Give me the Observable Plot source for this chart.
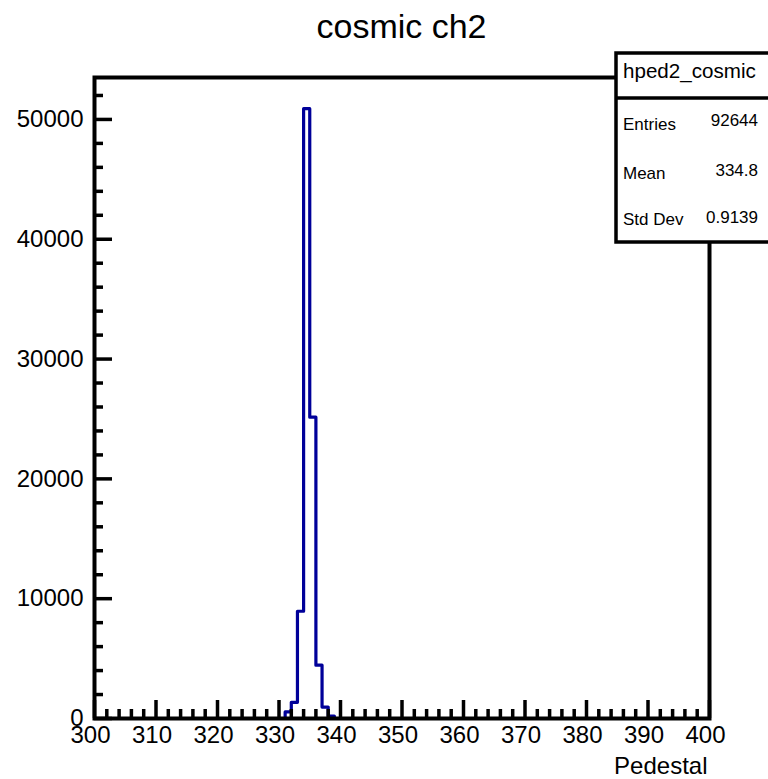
<!DOCTYPE html>
<html><head><meta charset="utf-8">
<script src="https://cdn.jsdelivr.net/npm/d3@7"></script>
<script src="https://cdn.jsdelivr.net/npm/@observablehq/plot@0.6"></script>
<style>
html,body{margin:0;padding:0;background:#fff;overflow:hidden;}
#wrap{position:relative;width:768px;height:779px;font-family:"Liberation Sans",Arial,Helvetica,sans-serif;}
#title{position:absolute;left:94px;width:615px;top:9px;height:34px;line-height:34px;font-size:34px;text-align:center;color:#000;}
#chart{position:absolute;left:0;top:50px;}
</style></head><body>
<div id="wrap"><div id="title">cosmic ch2</div><div id="chart"></div></div>
<script>
// ---- data ----
const titleText = "cosmic ch2";
const xLabel = "Pedestal";
const xMin = 300, xMax = 400, yMax = 53500;
const binLow = [331, 332, 333, 334, 335, 336, 337, 338];
const binCounts = [550, 1350, 8950, 50900, 25150, 4450, 950, 200];
const xMajor = [300, 310, 320, 330, 340, 350, 360, 370, 380, 390, 400];
const yMajor = [0, 10000, 20000, 30000, 40000, 50000];
const statsName = "hped2_cosmic";
const statsLabels = ["Entries", "Mean", "Std Dev"];
const statsValues = ["92644", "334.8", "0.9139"];

// minor ticks
const xMinor = d3.range(xMin + 2, xMax, 2).filter(v => v % 10 !== 0);
const yMinor = d3.range(2000, yMax, 2000).filter(v => v % 10000 !== 0);

// step outline of the histogram
const countMap = new Map(binLow.map((b, i) => [b, binCounts[i]]));
const steps = [];
for (let b = xMin; b < xMax; b++) steps.push({x: b, y: countMap.get(b) || 0});
steps.push({x: xMax, y: 0});

const W = 768, H = 729, mL = 94, mR = 59, mT = 27, mB = 61;
const frameW = W - mL - mR, frameH = H - mT - mB;
const font = '"Liberation Sans", Arial, Helvetica, sans-serif';

const svg = Plot.plot({
  width: W, height: H,
  marginLeft: mL, marginRight: mR, marginTop: mT, marginBottom: mB,
  x: {domain: [xMin, xMax]},
  y: {domain: [0, yMax]},
  style: {fontFamily: font, background: "white", color: "black", overflow: "visible"},
  marks: [
    Plot.line(steps, {x: "x", y: "y", curve: "step-after", stroke: "#000099", strokeWidth: 3.2}),
    Plot.ruleY(yMinor, {insetRight: frameW - 9, strokeWidth: 3.5, stroke: "black"}),
    Plot.ruleY(yMajor, {insetRight: frameW - 18, strokeWidth: 3.5, stroke: "black"}),
    Plot.ruleX(xMinor, {insetTop: frameH - 9, strokeWidth: 3.5, stroke: "black"}),
    Plot.ruleX(xMajor, {insetTop: frameH - 18, strokeWidth: 3.5, stroke: "black"}),
    Plot.frame({stroke: "black", strokeWidth: 4}),
    Plot.axisY(yMajor, {tickSize: 0, tickPadding: 11, fontSize: 24, tickFormat: d => String(d), label: null}),
    Plot.axisX(xMajor, {tickSize: 0, tickPadding: 7, fontSize: 24, dx: -4, tickFormat: d => String(d), label: null}),
    Plot.text([xLabel], {frameAnchor: "bottom-right", textAnchor: "end", lineAnchor: "bottom", dy: 55, dx: -2, fontSize: 24})
  ]
});
document.getElementById("chart").appendChild(svg);
document.getElementById("title").textContent = titleText;

// stats box
const g = d3.select(svg).append("g").attr("font-family", font).attr("fill", "black");
g.append("rect").attr("x", 616).attr("y", 3).attr("width", 180).attr("height", 189)
  .attr("fill", "white").attr("stroke", "black").attr("stroke-width", 3.5);
g.append("line").attr("x1", 616).attr("x2", 790).attr("y1", 48).attr("y2", 48)
  .attr("stroke", "black").attr("stroke-width", 3.5);
g.append("text").attr("x", 623).attr("y", 28).attr("font-size", 20.6)
  .attr("text-anchor", "start").text(statsName);
const labelY = [80, 129, 175], valueY = [76, 126, 173];
statsLabels.forEach((l, i) => {
  g.append("text").attr("x", 623).attr("y", labelY[i]).attr("font-size", 17)
    .attr("text-anchor", "start").text(l);
  g.append("text").attr("x", 758).attr("y", valueY[i]).attr("font-size", 17)
    .attr("text-anchor", "end").text(statsValues[i]);
});
</script>
</body></html>
